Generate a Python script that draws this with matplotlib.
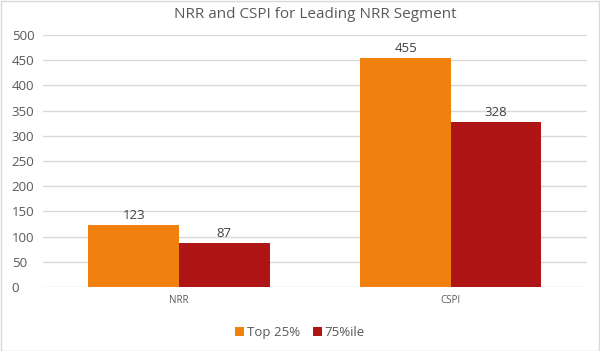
import numpy as np
import matplotlib
matplotlib.use("Agg")
import matplotlib.pyplot as plt

categories = ["NRR", "CSPI"]
series_names = ["Top 25%", "75%ile"]
top25 = [123, 455]
p75 = [87, 328]
yticks = [0, 50, 100, 150, 200, 250, 300, 350, 400, 450, 500]

plt.rcParams["font.family"] = ["Open Sans", "DejaVu Sans"]
text_col = "#595959"

fig = plt.figure(figsize=(6, 3.51), dpi=100)
ax = fig.add_axes([0.0717, 0.1823, 0.9063, 0.718])

x = np.arange(len(categories))
w = 0.333
b1 = ax.bar(x - w / 2, top25, w, color="#F0810F", label=series_names[0], zorder=3)
b2 = ax.bar(x + w / 2, p75, w, color="#B01515", label=series_names[1], zorder=3)

for bars in (b1, b2):
    for r in bars:
        ax.annotate(f"{r.get_height():g}", (r.get_x() + r.get_width() / 2, r.get_height()),
                    xytext=(0, 2), textcoords="offset points", ha="center", va="bottom",
                    fontsize=9.5, color="#404040")

ax.set_xlim(-0.5, 1.5)
ax.set_ylim(0, 500)
ax.set_yticks(yticks)
ax.set_xticks(x)
ax.set_xticklabels(categories, fontsize=7, color=text_col)
ax.tick_params(axis="y", labelsize=9.5, colors=text_col, length=0, pad=22.5)
ax.tick_params(axis="x", length=0, pad=6)
for lbl in ax.get_yticklabels():
    lbl.set_horizontalalignment("left")
ax.grid(axis="y", color="#D9D9D9", linewidth=1, zorder=0)
for s in ax.spines.values():
    s.set_visible(False)

ax.set_title("NRR and CSPI for Leading NRR Segment", fontsize=11, color=text_col, pad=12)

fig.legend(loc="lower center", bbox_to_anchor=(0.5, 0.0), ncol=2, frameon=False,
           fontsize=9.5, handlelength=0.7, handleheight=0.7, handletextpad=0.2,
           columnspacing=1.0, labelcolor=text_col)

fig.patches.append(plt.Rectangle((0.001, 0.001), 0.997, 0.996, transform=fig.transFigure,
                                 fill=False, edgecolor="#D9D9D9", linewidth=1))

fig.savefig("out.png", dpi=100)
